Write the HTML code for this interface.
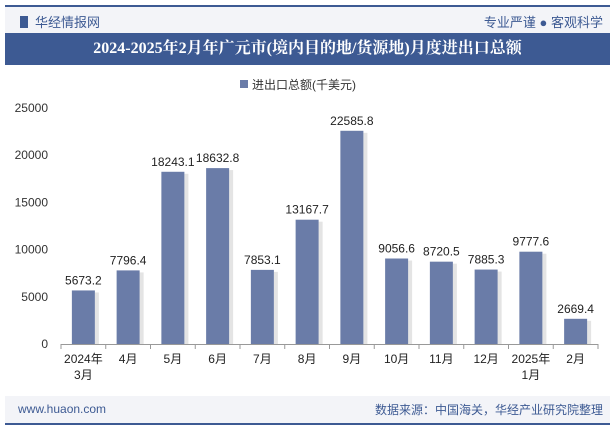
<!DOCTYPE html>
<html><head><meta charset="utf-8"><style>
body{margin:0;width:615px;height:427px;background:#fff;font-family:"Liberation Sans","Noto Sans CJK SC",sans-serif;overflow:hidden;position:relative}
</style></head><body>
<div style="position:absolute;left:5px;top:5px;width:605px;height:2px;background:#3d5a93"></div>
<div style="position:absolute;left:5px;top:7px;width:605px;height:26px;background:#f3f4f8"></div>
<div style="position:absolute;left:20px;top:12px;font-size:13px;color:#3d5a93"><span style="display:inline-block;width:8px;height:12px;background:#3d5a93;vertical-align:-1px;margin-right:7px"></span>华经情报网</div>
<div style="position:absolute;right:12px;top:12px;font-size:13px;color:#3d5a93">专业严谨 ● 客观科学</div>
<div style="position:absolute;left:5px;top:33px;width:605px;height:32px;background:#3d5a93;color:#fff;font-family:'Liberation Serif','Noto Serif CJK SC',serif;font-weight:bold;font-size:16px;text-align:center;line-height:32px">2024-2025年2月年广元市(境内目的地/货源地)月度进出口总额</div>
<svg id="c" width="615" height="427" style="position:absolute;left:0;top:0" xmlns="http://www.w3.org/2000/svg"></svg>
<div style="position:absolute;left:5px;top:396px;width:605px;height:27px;background:#f3f4f8"></div>
<div style="position:absolute;left:5px;top:423px;width:605px;height:2px;background:#3d5a93"></div>
<div style="position:absolute;left:18px;top:402px;font-size:12px;color:#3d5a93">www.huaon.com</div>
<div style="position:absolute;right:12px;top:401px;font-size:12px;color:#3d5a93">数据来源：中国海关，华经产业研究院整理</div>
<script>
const categories=["2024年\n3月","4月","5月","6月","7月","8月","9月","10月","11月","12月","2025年\n1月","2月"];
const values=[5673.2,7796.4,18243.1,18632.8,7853.1,13167.7,22585.8,9056.6,8720.5,7885.3,9777.6,2669.4];
const yTicks=[0,5000,10000,15000,20000,25000];
const svg=document.getElementById('c');const NS='http://www.w3.org/2000/svg';
const x0=61,x1=598,y0=344,yTop=108,yMax=25000;
const bw=(x1-x0)/categories.length;
const ys=v=>y0-(v/yMax)*(y0-yTop);
const xc=i=>x0+bw*(i+0.5);
function mk(t,a){const e=document.createElementNS(NS,t);for(const k in a)e.setAttribute(k,a[k]);svg.appendChild(e);return e;}
// legend
const lg=mk('rect',{x:240,y:80,width:8,height:8,fill:'#6a7ca8'});


const lt=mk('text',{x:252,y:89,'font-size':12,fill:'#333'});lt.textContent='进出口总额(千美元)';


yTicks.forEach(v=>{const t=mk('text',{x:48,y:ys(v)+4,'font-size':12,'text-anchor':'end',fill:'#333'});t.textContent=v;

});
const ax=mk('line',{x1:x0,x2:x1,y1:y0+0.5,y2:y0+0.5,stroke:'#999'});


for(let i=0;i<=categories.length;i++){mk('line',{x1:x0+bw*i,x2:x0+bw*i,y1:y0,y2:y0+5,stroke:'#999'});}
values.forEach((v,i)=>{
 const w=23,x=xc(i)-w/2,y=ys(v);
 mk('rect',{x:x+w,y:y+2,width:4,height:y0-y-2,fill:'#e4e4e4'});
 const r=mk('rect',{x:x,y:y,width:w,height:y0-y,fill:'#6a7ca8'});
 
 
 const t=mk('text',{x:xc(i),y:y-6,'font-size':12,'text-anchor':'middle',fill:'#222'});t.textContent=v.toFixed(1);
 
 
 categories[i].split('\n').forEach((s,j)=>{const c=mk('text',{x:xc(i),y:y0+19+j*16,'font-size':12,'text-anchor':'middle',fill:'#222'});c.textContent=s;
 
 });
});
</script>
</body></html>
